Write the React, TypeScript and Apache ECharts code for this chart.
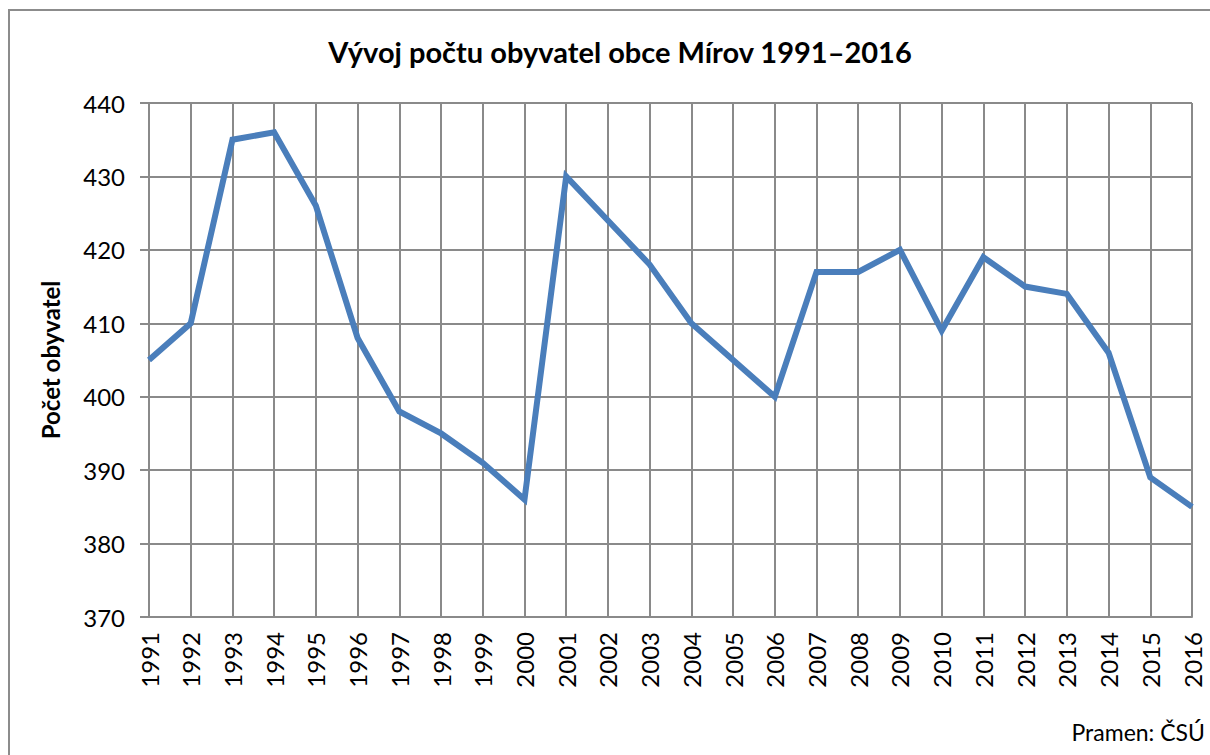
import React, { useEffect, useRef } from "react";
import * as echarts from "echarts";

const years = ["1991","1992","1993","1994","1995","1996","1997","1998","1999","2000","2001","2002","2003","2004","2005","2006","2007","2008","2009","2010","2011","2012","2013","2014","2015","2016"];
const population = [405,410,435,436,426,408,398,395,391,386,430,424,418,410,405,400,417,417,420,409,419,415,414,406,389,385];
const titleText = "Vývoj počtu obyvatel obce Mírov 1991–2016";
const yAxisName = "Počet obyvatel";
const sourceText = "Pramen: ČSÚ";

const FONT = "Lato, 'Open Sans', sans-serif";
const GRID_COLOR = "#8a8a8a";

export default function App() {
  const ref = useRef<HTMLDivElement>(null);
  useEffect(() => {
    document.body.style.margin = "0";
    const chart = echarts.init(ref.current!, null, { renderer: "svg" });
    chart.setOption({
      animation: false,
      backgroundColor: "#ffffff",
      textStyle: { fontFamily: FONT },
      title: {
        text: titleText,
        left: 615,
        textAlign: "center",
        top: 32,
        textStyle: { fontFamily: FONT, fontSize: 29, fontWeight: "bold", color: "#000" },
      },
      graphic: [
        {
          type: "rect",
          shape: { x: 9, y: 10, width: 1400, height: 900 },
          style: { fill: "none", stroke: "#8c8c8c", lineWidth: 2 },
          z: 100,
        },
        {
          type: "text",
          right: 5,
          top: 720,
          style: { text: sourceText, font: `23px ${FONT}`, fill: "#000" },
        },
      ],
      grid: { left: 149, right: 18, top: 103, bottom: 138 },
      xAxis: {
        type: "category",
        data: years,
        boundaryGap: false,
        axisLine: { show: true, lineStyle: { color: GRID_COLOR, width: 2 } },
        axisTick: { show: false },
        axisLabel: { rotate: 90, margin: 15, fontSize: 24, color: "#000", fontFamily: FONT },
        splitLine: { show: true, lineStyle: { color: GRID_COLOR, width: 2 } },
      },
      yAxis: {
        type: "value",
        min: 370,
        max: 440,
        interval: 10,
        name: yAxisName,
        nameLocation: "middle",
        nameGap: 87,
        nameRotate: 90,
        nameTextStyle: { fontFamily: FONT, fontSize: 24, fontWeight: "bold", color: "#000" },
        axisLine: { show: true, lineStyle: { color: GRID_COLOR, width: 2 } },
        axisTick: { show: true, length: 9, lineStyle: { color: GRID_COLOR, width: 2 } },
        axisLabel: { margin: 24, fontSize: 24, color: "#000", fontFamily: FONT },
        splitLine: { show: true, lineStyle: { color: GRID_COLOR, width: 2 } },
      },
      series: [
        {
          type: "line",
          data: population,
          symbol: "none",
          lineStyle: { color: "#4a7ebb", width: 6, join: "miter" },
          itemStyle: { color: "#4a7ebb" },
        },
      ],
    });
    return () => chart.dispose();
  }, []);
  return <div ref={ref} style={{ width: 1210, height: 755 }} />;
}
